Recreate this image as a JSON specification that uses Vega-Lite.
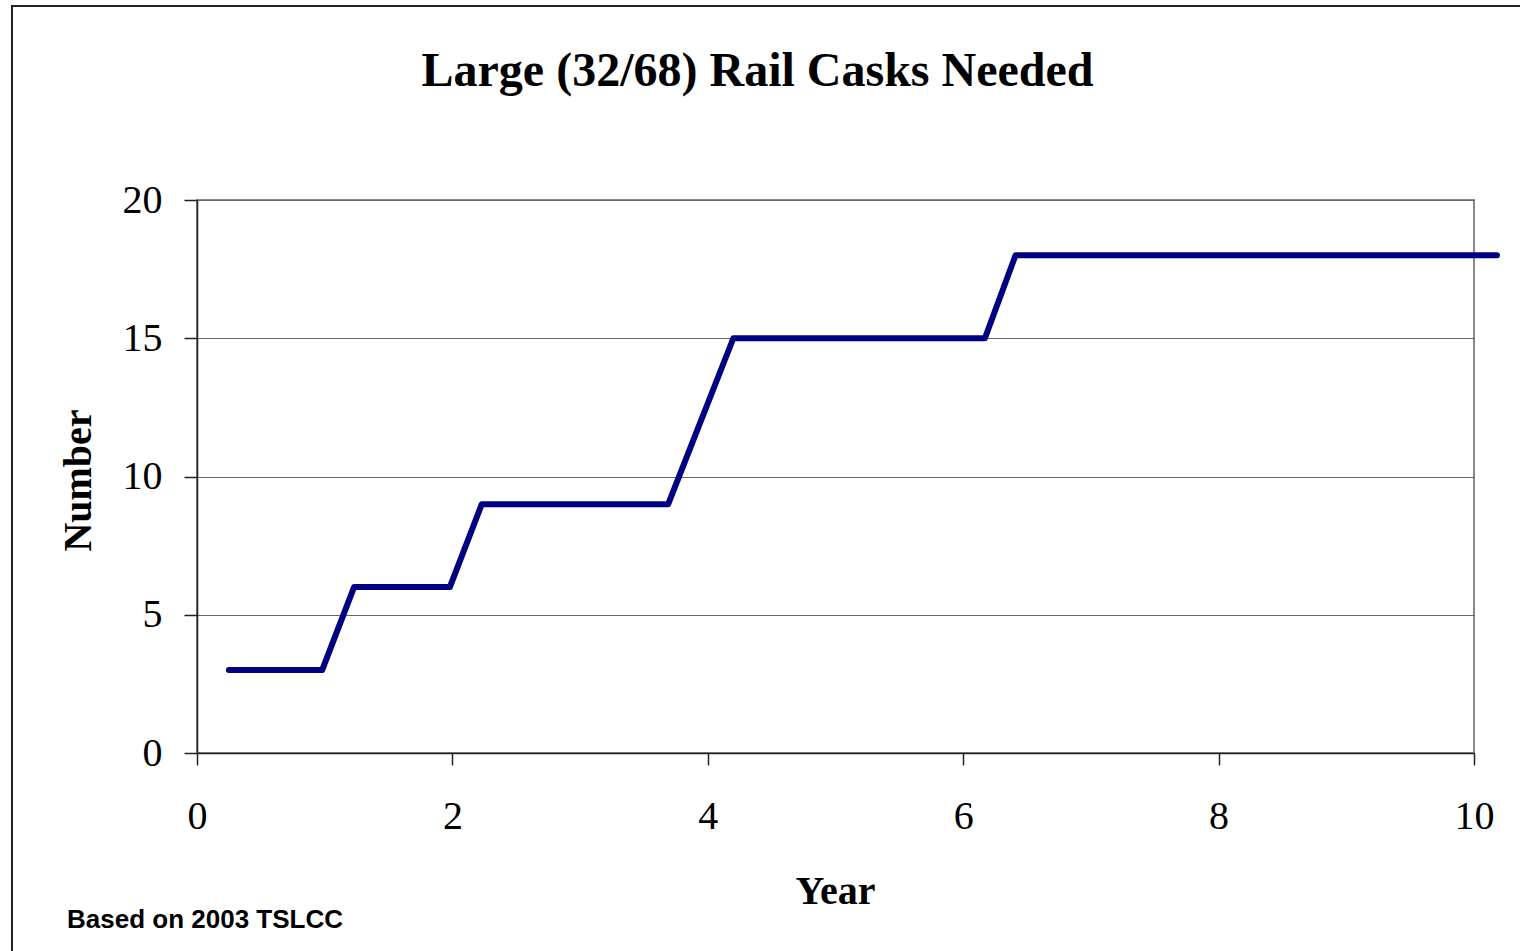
{
  "$schema": "https://vega.github.io/schema/vega-lite/v6.json",
  "width": 1277,
  "height": 553,
  "autosize": {"type": "none"},
  "padding": {"left": 197, "top": 200, "right": 46, "bottom": 198},
  "background": "white",
  "title": {
    "text": "Large (32/68) Rail Casks Needed",
    "font": "Liberation Serif",
    "fontSize": 48,
    "fontWeight": "bold",
    "color": "black",
    "anchor": "middle",
    "frame": "group",
    "baseline": "alphabetic",
    "dx": -78,
    "offset": -129
  },
  "config": {
    "view": {"stroke": "#888888", "strokeWidth": 2},
    "axis": {
      "labelFont": "Liberation Serif",
      "titleFont": "Liberation Serif",
      "labelColor": "black",
      "titleColor": "black",
      "domainColor": "#222222",
      "tickColor": "#222222",
      "domainWidth": 1.5,
      "tickWidth": 1.5
    }
  },
  "layer": [
    {
      "data": {"values": [{"k": 1}]},
      "mark": {"type": "rect", "fill": null, "stroke": "#222222", "strokeWidth": 2, "clip": false},
      "encoding": {
        "x": {"datum": -1.449, "type": "quantitative", "scale": {"domain": [0, 10], "nice": false, "zero": false}},
        "x2": {"datum": 10.8},
        "y": {"datum": 27.02, "type": "quantitative", "scale": {"domain": [0, 20], "nice": false, "zero": false}},
        "y2": {"datum": -9}
      }
    },
    {
      "data": {"values": [
        {"year": 0.25, "number": 3},
        {"year": 0.98, "number": 3},
        {"year": 1.23, "number": 6},
        {"year": 1.98, "number": 6},
        {"year": 2.23, "number": 9},
        {"year": 3.69, "number": 9},
        {"year": 4.2, "number": 15},
        {"year": 6.17, "number": 15},
        {"year": 6.41, "number": 18},
        {"year": 10.18, "number": 18}
      ]},
      "mark": {"type": "line", "color": "#000080", "strokeWidth": 6, "strokeCap": "round", "strokeJoin": "round", "clip": false},
      "encoding": {
        "x": {
          "field": "year",
          "type": "quantitative",
          "scale": {"domain": [0, 10], "nice": false, "zero": false},
          "axis": {
            "title": "Year",
            "titleFontSize": 40,
            "titleFontWeight": "bold",
            "titleBaseline": "alphabetic",
            "titleAlign": "center",
            "titleX": 638,
            "titleY": 150,
            "values": [0, 2, 4, 6, 8, 10],
            "format": "d",
            "labelFontSize": 40,
            "labelPadding": 31,
            "labelFlush": false,
            "labelOverlap": false,
            "tickSize": 12,
            "grid": false
          }
        },
        "y": {
          "field": "number",
          "type": "quantitative",
          "scale": {"domain": [0, 20], "nice": false, "zero": false},
          "axis": {
            "title": "Number",
            "titleFontSize": 40,
            "titleFontWeight": "bold",
            "titleAngle": -90,
            "titleBaseline": "alphabetic",
            "titleAlign": "center",
            "titleX": -107,
            "titleY": 280,
            "values": [0, 5, 10, 15, 20],
            "format": "d",
            "labelFontSize": 40,
            "labelPadding": 22,
            "labelFlush": false,
            "labelOverlap": false,
            "tickSize": 13,
            "grid": true,
            "gridColor": "#666666",
            "gridWidth": 1
          }
        }
      }
    },
    {
      "data": {"values": [{"note": "Based on 2003 TSLCC"}]},
      "mark": {"type": "text", "font": "Liberation Sans", "fontSize": 26, "fontWeight": "bold", "color": "black", "align": "left", "baseline": "alphabetic", "clip": false},
      "encoding": {
        "text": {"field": "note"},
        "x": {"datum": -1.018, "type": "quantitative", "scale": {"domain": [0, 10], "nice": false, "zero": false}},
        "y": {"datum": -6.33, "type": "quantitative", "scale": {"domain": [0, 20], "nice": false, "zero": false}}
      }
    }
  ]
}
